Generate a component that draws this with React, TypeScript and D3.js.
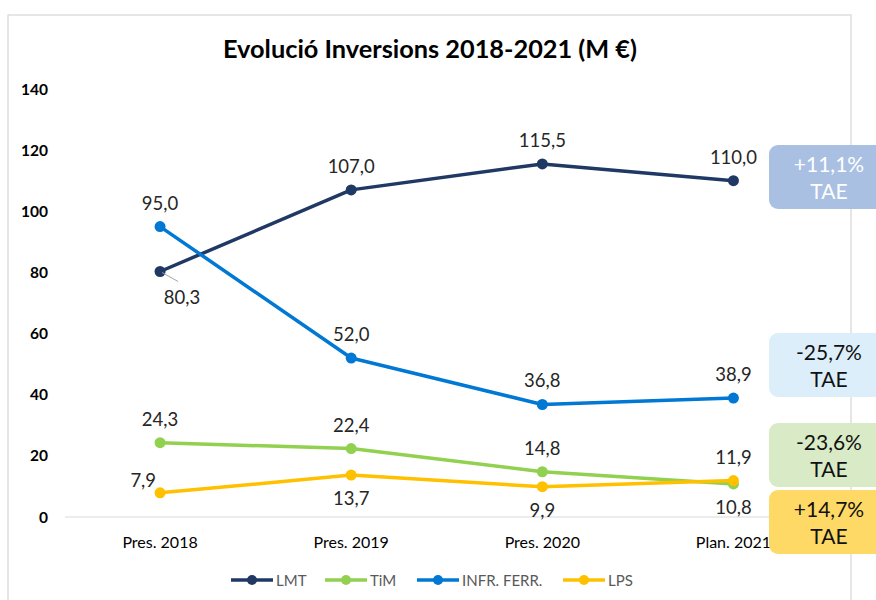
import React from "react";
import * as d3 from "d3";

const categories = ["Pres. 2018", "Pres. 2019", "Pres. 2020", "Plan. 2021"];
const seriesNames = ["LMT", "TiM", "INFR. FERR.", "LPS"];
const lmtValues = [80.3, 107.0, 115.5, 110.0];
const timValues = [24.3, 22.4, 14.8, 10.8];
const infrValues = [95.0, 52.0, 36.8, 38.9];
const lpsValues = [7.9, 13.7, 9.9, 11.9];
const yTicks = [0, 20, 40, 60, 80, 100, 120, 140];
const taeLabels = ["+11,1%", "-25,7%", "-23,6%", "+14,7%"];

const colors = ["#203864", "#92D050", "#0078D4", "#FFC000"];
const boxFills = ["#A9C0E3", "#DDEEFB", "#D8EAC6", "#FFD966"];
const boxText = ["#ffffff", "#111111", "#111111", "#111111"];
const boxTops = [145, 333, 423, 490];
// label placement per series per point: "a" above, "b" below, "l" left-above, "bl" leader below-right
const placements = [
  ["bl", "a", "a", "a"],
  ["a", "a", "a", "b"],
  ["a", "a", "a", "a"],
  ["l", "b", "b", "a"],
];

const fmt = (v: number) => v.toFixed(1).replace(".", ",");

export default function App() {
  const W = 876, H = 600;
  const x = d3.scalePoint<string>().domain(categories).range([64.5, 829]).padding(0.5);
  const y = d3.scaleLinear().domain([0, 140]).range([517, 89]);
  const all = [lmtValues, timValues, infrValues, lpsValues];
  const line = d3.line<number>().x((_, i) => x(categories[i])!).y((d) => y(d));
  const font = "Lato, 'Open Sans', sans-serif";

  const legendItems = [
    { x: 231, tx: 276 },
    { x: 325, tx: 370 },
    { x: 417, tx: 462 },
    { x: 563, tx: 608 },
  ];

  return (
    <svg width={W} height={H} style={{ position: "absolute", left: 0, top: 0 }} fontFamily={font}>
      <rect x={0} y={0} width={W} height={H} fill="#fff" />
      <rect x={8} y={15} width={843} height={600} fill="#fff" stroke="#D9D9D9" strokeWidth={1.3} />
      <text x={430} y={58} textAnchor="middle" fontSize={25} fontWeight={700} fill="#000" textLength={414} lengthAdjust="spacingAndGlyphs">
        Evolució Inversions 2018-2021 (M €)
      </text>
      {yTicks.map((t) => (
        <text key={t} x={48} y={y(t) + 5.5} textAnchor="end" fontSize={15.5} fontWeight={700} fill="#000">
          {t}
        </text>
      ))}
      <line x1={65} x2={829} y1={y(0)} y2={y(0)} stroke="#D9D9D9" strokeWidth={1} />
      {categories.map((c) => (
        <text key={c} x={x(c)!} y={548} textAnchor="middle" fontSize={16} fill="#000">
          {c}
        </text>
      ))}
      {all.map((vals, si) => (
        <g key={si}>
          <path d={line(vals) || ""} fill="none" stroke={colors[si]} strokeWidth={3.5} strokeLinejoin="round" />
          {vals.map((v, i) => (
            <circle key={i} cx={x(categories[i])!} cy={y(v)} r={5.5} fill={colors[si]} />
          ))}
        </g>
      ))}
      {all.map((vals, si) =>
        vals.map((v, i) => {
          const px = x(categories[i])!;
          const py = y(v);
          const p = placements[si][i];
          let lx = px, ly = py - 17, anchor: "middle" | "end" = "middle";
          if (p === "b") ly = py + 30;
          if (p === "l") { lx = px - 4; ly = py - 6; anchor = "end"; }
          if (p === "bl") { lx = px + 22; ly = py + 32; }
          return (
            <g key={`${si}-${i}`}>
              {p === "bl" && (
                <line x1={px + 2} y1={py + 1} x2={px + 18} y2={py + 10} stroke="#A6A6A6" strokeWidth={1} />
              )}
              <text x={lx} y={ly} textAnchor={anchor} fontSize={18.5} fill="#262626">
                {fmt(v)}
              </text>
            </g>
          );
        })
      )}
      {taeLabels.map((t, i) => (
        <g key={t}>
          <rect x={769} y={boxTops[i]} width={120} height={64} rx={9} fill={boxFills[i]} />
          <text x={829} y={boxTops[i] + 27} textAnchor="middle" fontSize={21} fill={boxText[i]}>
            {t}
          </text>
          <text x={829} y={boxTops[i] + 54} textAnchor="middle" fontSize={21} fill={boxText[i]}>
            TAE
          </text>
        </g>
      ))}
      {seriesNames.map((n, i) => (
        <g key={n}>
          <line x1={legendItems[i].x} x2={legendItems[i].x + 42} y1={580} y2={580} stroke={colors[i]} strokeWidth={3.5} />
          <circle cx={legendItems[i].x + 21} cy={580} r={5} fill={colors[i]} />
          <text x={legendItems[i].tx} y={585.5} fontSize={15} fill="#595959">
            {n}
          </text>
        </g>
      ))}
    </svg>
  );
}
